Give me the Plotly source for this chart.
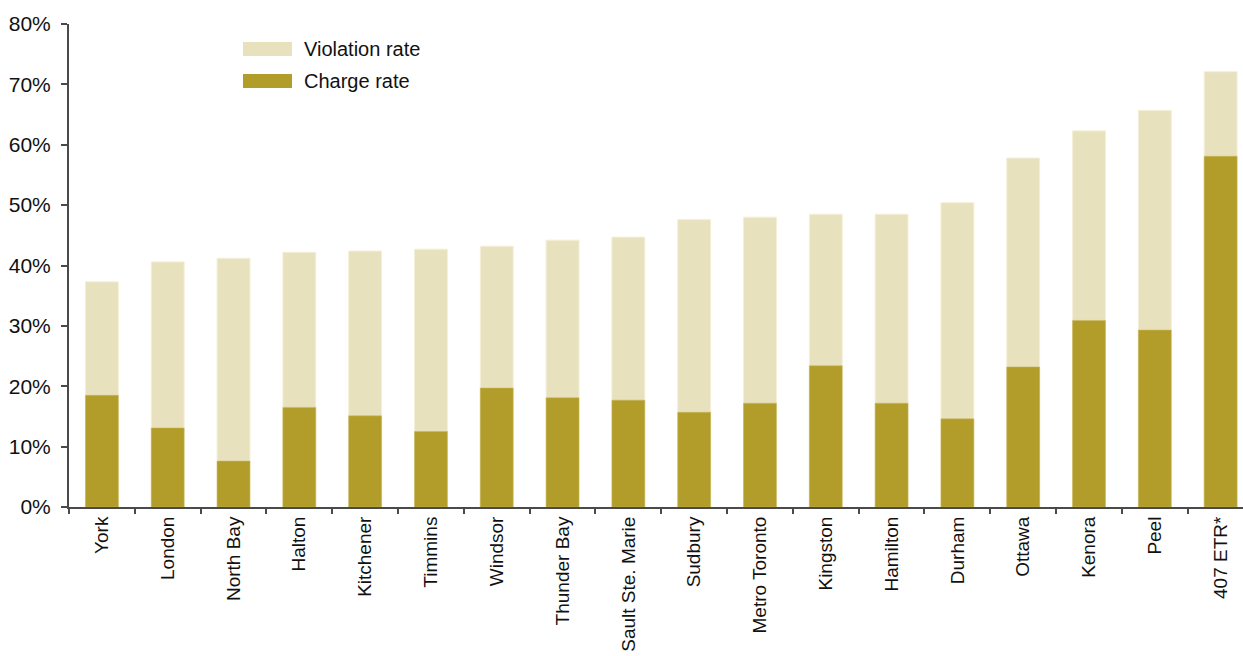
import plotly.graph_objects as go

categories = ["York", "London", "North Bay", "Halton", "Kitchener", "Timmins", "Windsor",
              "Thunder Bay", "Sault Ste. Marie", "Sudbury", "Metro Toronto", "Kingston",
              "Hamilton", "Durham", "Ottawa", "Kenora", "Peel", "407 ETR*"]
violation_rate = [37.3, 40.6, 41.2, 42.2, 42.4, 42.7, 43.2, 44.2, 44.7, 47.6, 48.0, 48.5,
                  48.5, 50.4, 57.8, 62.3, 65.7, 72.1]
charge_rate = [18.5, 13.1, 7.6, 16.5, 15.1, 12.5, 19.7, 18.1, 17.7, 15.7, 17.2, 23.4,
               17.2, 14.6, 23.2, 30.9, 29.3, 58.1]
series_names = ["Violation rate", "Charge rate"]
y_ticks = [0, 10, 20, 30, 40, 50, 60, 70, 80]
y_tick_labels = ["0%", "10%", "20%", "30%", "40%", "50%", "60%", "70%", "80%"]

LIGHT = "#E8E1BE"
DARK = "#B39D2A"
TEXT = "#111111"
AXIS = "#4a4a4a"
FONT = "Arial, Liberation Sans, sans-serif"

fig = go.Figure()
fig.add_trace(go.Bar(x=categories, y=violation_rate, name=series_names[0], width=0.5,
                     marker=dict(color=LIGHT, line=dict(color="#F4EFD8", width=1)),
                     showlegend=False))
fig.add_trace(go.Bar(x=categories, y=charge_rate, name=series_names[1], width=0.5,
                     marker=dict(color=DARK, line=dict(color="#C9B75A", width=0.5)),
                     showlegend=False))

W, H = 1243, 656
L, T, B = 69, 24, 149
pw, ph = W - L, H - T - B

def px(x):
    return (x - L) / pw

def py(y):
    return (H - B - y) / ph

shapes = []
annotations = []
for i, (name, col) in enumerate(zip(series_names, [LIGHT, DARK])):
    y0 = 42 + i * 32
    shapes.append(dict(type="rect", xref="paper", yref="paper",
                       x0=px(243), x1=px(292), y0=py(y0 + 14), y1=py(y0),
                       fillcolor=col, line=dict(width=0)))
    annotations.append(dict(text=name, xref="paper", yref="paper", x=px(302), y=py(y0 + 7),
                            xanchor="left", yanchor="middle", showarrow=False,
                            font=dict(family=FONT, size=20, color=TEXT)))

fig.update_layout(
    width=W, height=H,
    margin=dict(l=L, r=0, t=T, b=B, pad=0),
    barmode="overlay",
    plot_bgcolor="white", paper_bgcolor="white",
    font=dict(family=FONT, color=TEXT),
    shapes=shapes, annotations=annotations,
    xaxis=dict(type="category", range=[-0.5, 17.34], tickangle=-90, automargin=False,
               tickson="boundaries", ticks="outside", ticklen=5, tickwidth=1.5,
               tickcolor=AXIS, showline=True, linecolor=AXIS, linewidth=2,
               showgrid=False, tickfont=dict(size=19, color=TEXT, family=FONT)),
    yaxis=dict(range=[0, 80], tickmode="array", tickvals=y_ticks, ticktext=y_tick_labels,
               automargin=False,
               ticks="outside", ticklen=6, tickwidth=1.5, tickcolor=AXIS, showline=True,
               linecolor=AXIS, linewidth=2, showgrid=False, zeroline=False,
               ticklabelstandoff=6, tickfont=dict(size=21, color=TEXT, family=FONT)),
)

fig.write_html("out.html")
